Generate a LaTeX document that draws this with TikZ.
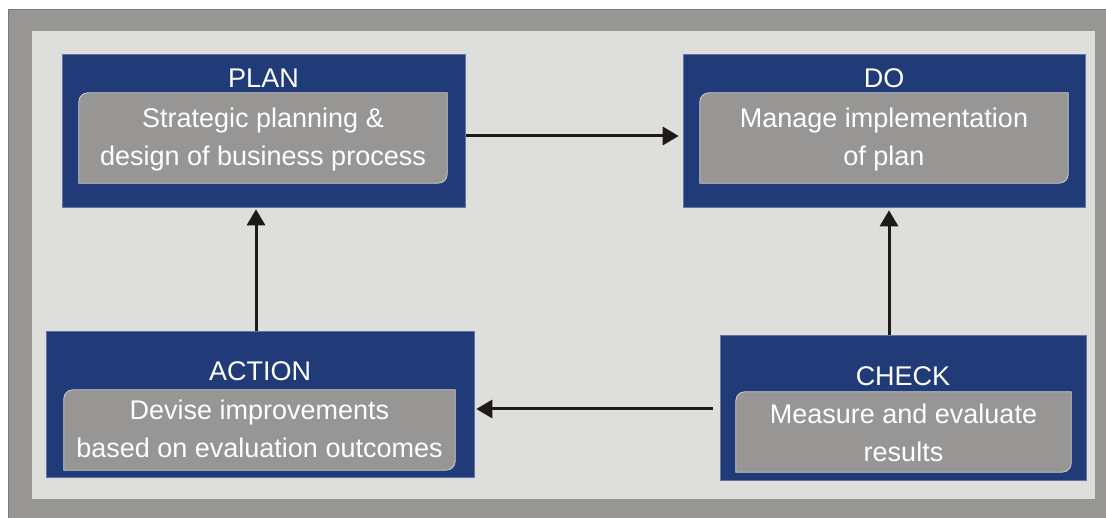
\documentclass[tikz,border=0pt]{standalone}
\usepackage{fontspec}
\setmainfont{Liberation Sans}
\usetikzlibrary{arrows.meta}
\definecolor{frame}{HTML}{979695}
\definecolor{canvas}{HTML}{DEDEDD}
\definecolor{navy}{HTML}{213B78}
\definecolor{slate}{HTML}{979695}
\definecolor{rim}{HTML}{CFCFCF}
\definecolor{ink}{HTML}{1E1A17}
\tikzset{
  outerbox/.style={fill=navy, draw=navy!70!white, line width=0.6pt, inner sep=0pt},
  innerbox/.style={inner sep=0pt, align=center, text=white,
    font=\fontsize{27}{38}\selectfont},
  title/.style={text=white, font=\fontsize{27}{32}\selectfont, inner sep=0pt},
  arr/.style={draw=ink, line width=3pt, -{Triangle[length=16pt,width=18pt]}},
}
% gray panel with rounded top-left and bottom-right corners
\newcommand{\panel}[1]{%
  \fill[slate, draw=rim, line width=0.8pt]
    (#1.south west) -- ([yshift=-9pt]#1.north west)
    arc[start angle=180, end angle=90, radius=9pt]
    -- (#1.north east) -- ([yshift=9pt]#1.south east)
    arc[start angle=0, end angle=-90, radius=9pt] -- cycle;}
\begin{document}
\begin{tikzpicture}[x=1pt,y=1pt]
\useasboundingbox (0,0) rectangle (1106,517);
% frame and canvas
\fill[frame, draw=frame!80!black, line width=0.8pt] (8,-2) rectangle (1108,508);
\fill[canvas] (32,18) rectangle (1095,486);

% stage boxes
\node[outerbox, minimum width=403pt, minimum height=153pt] (plan) at (263.5,386.5) {};
\node[outerbox, minimum width=402pt, minimum height=153pt] (do) at (884,386.5) {};
\node[outerbox, minimum width=428pt, minimum height=146pt] (action) at (260,113) {};
\node[outerbox, minimum width=366pt, minimum height=145pt] (check) at (903,109.5) {};

% titles
\node[title] (plant) at (263.5,439) {PLAN};
\node[title] (dot) at (884,439) {DO};
\node[title] (actiont) at (260,146) {ACTION};
\node[title] (checkt) at (903,141) {CHECK};

% inner panels
\node[minimum width=368pt, minimum height=90pt, inner sep=0pt] (plani) at (263,379) {};
\node[minimum width=368pt, minimum height=90pt, inner sep=0pt] (doi) at (884,379) {};
\node[minimum width=391pt, minimum height=80pt, inner sep=0pt] (actioni) at (259.5,87) {};
\node[minimum width=335pt, minimum height=80pt, inner sep=0pt] (checki) at (903.5,85) {};
\panel{plani}
\panel{doi}
\panel{actioni}
\panel{checki}

\node[innerbox] (plantext) at ([yshift=-2pt]plani.center) {Strategic planning \&\\design of business process};
\node[innerbox] (dotext) at ([yshift=-2pt]doi.center) {Manage implementation\\of plan};
\node[innerbox] (actiontext) at ([yshift=1pt]actioni.center) {Devise improvements\\based on evaluation outcomes};
\node[innerbox] (checktext) at ([yshift=-1pt]checki.center) {Measure and evaluate\\results};

% cycle arrows
\draw[arr, shorten <=1pt, shorten >=4pt] ([yshift=-5.5pt]plan.east) -- ([yshift=-5.5pt]do.west);
\draw[arr, shorten >=3pt] ([xshift=-14pt]check.north) -- ([xshift=-14pt]check.north |- do.south);
\draw[arr, shorten <=7pt, shorten >=2pt] ([yshift=-1.5pt]check.west) -- ([yshift=-1.5pt]check.west -| action.east);
\draw[arr, shorten >=2pt] ([xshift=-4pt]action.north) -- ([xshift=-4pt]action.north |- plan.south);
\end{tikzpicture}
\end{document}
